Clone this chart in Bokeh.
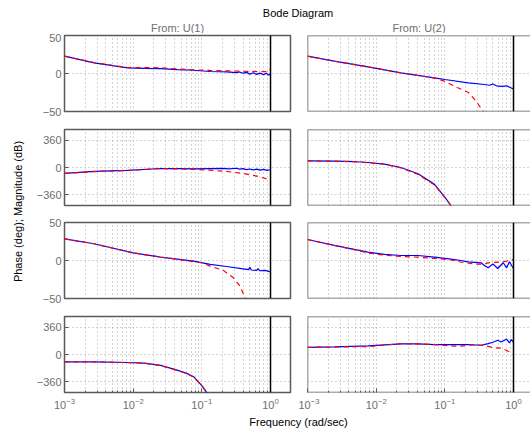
import math
from bokeh.plotting import figure
from bokeh.models import Range1d, FixedTicker, Span, Label
from bokeh.layouts import column, row
from bokeh.embed import file_html
from bokeh.resources import INLINE

# ---------------- data ----------------
freq_major = [1e-3, 1e-2, 1e-1, 1e0]
mag_ticks = [-50, 0, 50]
mag_tick_labels = {-50: "\u221250", 0: "0", 50: "50"}
phase_ticks = [-360, 0, 360]
phase_tick_labels = {-360: "\u2212360", 0: "0", 360: "360"}

inputs = ["From: U(1)", "From: U(2)"]
outputs = ["To: Y(1)", "To: Y(2)"]

# Y(1) <- U(1), magnitude (dB)
f_m11_meas = [0.001, 0.00269, 0.00832, 0.0145, 0.0251, 0.0437, 0.0759, 0.132, 0.229, 0.316, 0.355,
              0.398, 0.447, 0.501, 0.562, 0.631, 0.700, 0.794, 0.871, 0.933, 1.0]
m11_meas = [22.8, 14.0, 7.4, 6.8, 6.5, 5.2, 4.3, 2.6, 2.1, 1.2, 2.0,
            0.4, 1.5, -0.8, 1.0, -1.2, 0.5, -1.5, 0.3, -2.0, -0.8]
f_m11_model = [0.001, 0.00269, 0.00832, 0.0145, 0.0251, 0.0437, 0.0759, 0.132, 0.229, 0.398, 0.700, 0.891, 1.0]
m11_model = [22.8, 14.5, 7.6, 7.8, 7.5, 6.0, 4.8, 4.0, 3.5, 3.0, 2.5, 2.5, 6.0]

# Y(1) <- U(2), magnitude (dB)
f_m12_meas = [0.001, 0.00245, 0.00759, 0.0229, 0.0708, 0.1, 0.219, 0.380, 0.447, 0.501, 0.562,
              0.676, 0.794, 0.891, 1.0]
m12_meas = [22.8, 16.2, 8.8, 0.8, -5.7, -7.9, -12.3, -14.5, -15.5, -13.8, -16.2,
            -17.0, -16.2, -18.5, -20.2]
f_m12_model = [0.001, 0.00245, 0.00759, 0.0229, 0.0708, 0.0984, 0.151, 0.221, 0.286, 0.358, 0.427]
m12_model = [22.8, 16.2, 8.8, 0.8, -6.0, -10.1, -18.4, -25.0, -36.4, -49.6, -62.0]

# Y(1) <- U(1), phase (deg)
f_p11_meas = [0.001, 0.00269, 0.00822, 0.0251, 0.0437, 0.0759, 0.132, 0.200, 0.251, 0.316, 0.355,
              0.398, 0.447, 0.501, 0.562, 0.631, 0.708, 0.794, 0.891, 1.0]
p11_meas = [-78, -52, -39, -13, -15, -17, -14, -12, -18, -10, -22,
            -15, -28, -20, -32, -22, -35, -25, -38, -30]
f_p11_model = [0.001, 0.00269, 0.00822, 0.0251, 0.0437, 0.0759, 0.132, 0.229, 0.398, 0.631, 0.891, 1.0]
p11_model = [-78, -55, -40, -15, -18, -25, -35, -52, -78, -113, -152, -165]

# Y(1) <- U(2), phase (deg)
f_p12_meas = [0.001, 0.00245, 0.00501, 0.00759, 0.0132, 0.0229, 0.0407, 0.0708, 0.1, 0.123, 0.141]
p12_meas = [87, 84, 76, 66, 45, 0, -83, -222, -390, -500, -590]
f_p12_model = [0.001, 0.00245, 0.00501, 0.00759, 0.0132, 0.0229, 0.0407, 0.0708, 0.1, 0.123, 0.141]
p12_model = [87, 83, 75, 64, 43, -5, -90, -230, -395, -505, -595]

# Y(2) <- U(1), magnitude (dB)
f_m21_meas = [0.001, 0.00269, 0.01, 0.0251, 0.0759, 0.132, 0.229, 0.398, 0.479, 0.501, 0.525,
              0.631, 0.661, 0.692, 0.832, 1.0]
m21_meas = [28.5, 22.0, 10.0, 4.5, -0.9, -5.2, -7.9, -10.9, -12.0, -9.0, -12.5,
            -13.0, -10.5, -13.5, -13.0, -15.0]
f_m21_model = [0.001, 0.00269, 0.01, 0.0251, 0.0759, 0.1, 0.132, 0.206, 0.288, 0.359, 0.427, 0.468]
m21_model = [28.5, 22.0, 10.0, 4.5, -1.5, -3.0, -7.4, -13.0, -22.8, -33.7, -49.0, -60.0]

# Y(2) <- U(2), magnitude (dB)
f_m22_meas = [0.001, 0.00245, 0.00759, 0.0132, 0.0229, 0.0407, 0.0708, 0.123, 0.170, 0.219, 0.339,
              0.380, 0.427, 0.501, 0.589, 0.708, 0.794, 0.871, 1.0]
m22_meas = [27.6, 20.0, 11.0, 8.0, 6.6, 6.6, 4.4, 1.8, 0.0, -1.7, -3.0,
            -7.0, -9.6, -4.4, -10.5, -3.0, -9.6, -1.7, -10.5]
f_m22_model = [0.001, 0.00245, 0.00759, 0.0132, 0.0229, 0.0407, 0.0708, 0.123, 0.170, 0.282, 0.380,
               0.427, 0.708, 1.0]
m22_model = [27.6, 20.0, 10.0, 7.0, 5.3, 4.4, 2.6, 0.9, -2.0, -4.8, -4.8, -3.0, -1.7, 1.4]

# Y(2) <- U(1), phase (deg)
f_p21_meas = [0.001, 0.00269, 0.00822, 0.0145, 0.0251, 0.0437, 0.0603, 0.0759, 0.0891, 0.1, 0.117, 0.141]
p21_meas = [-96, -96, -105, -113, -144, -205, -248, -292, -360, -410, -495, -590]
f_p21_model = [0.001, 0.00269, 0.00822, 0.0145, 0.0251, 0.0437, 0.0603, 0.0759, 0.0891, 0.1, 0.117, 0.141]
p21_model = [-96, -97, -106, -115, -146, -210, -252, -296, -362, -412, -497, -592]

# Y(2) <- U(2), phase (deg)
f_p22_meas = [0.001, 0.00245, 0.00759, 0.0229, 0.0407, 0.0708, 0.123, 0.219, 0.339, 0.427, 0.501,
              0.589, 0.661, 0.794, 0.871, 0.933, 1.0]
p22_meas = [95, 100, 113, 139, 139, 130, 130, 130, 122, 143, 161,
            187, 165, 204, 152, 196, 161]
f_p22_model = [0.001, 0.00245, 0.00759, 0.0229, 0.0407, 0.0708, 0.123, 0.170, 0.269, 0.380, 0.525,
               0.676, 0.871, 1.0]
p22_model = [95, 98, 104, 143, 139, 130, 113, 109, 130, 117, 87, 82, 35, 17]

# ---------------- styling ----------------
FONT = "Liberation Sans"
GRAY_TEXT = "#6e6e6e"
FRAME = "#5a5a5a"
GRID = "#a8a8a8"
BLUE = "#0000ff"
RED = "#ff0000"

freq_minor = [k * d for d in freq_major for k in range(2, 10)]

SIDE_W = 26
ROW_H = [87, 93, 94, 106]
ROW_TOP = [2, 9, 9, 9]
ROW_BOT = [9, 8, 9, 21]


def panel(row_idx, col_idx, kind, f_meas, v_meas, f_model, v_model):
    left = col_idx == 0
    xr = Range1d(1e-3, 1.955 if left else 1.768)
    yr = Range1d(-50, 50) if kind == "mag" else Range1d(-500, 500)
    p = figure(width=(298 - SIDE_W) if left else 232, height=ROW_H[row_idx],
               x_axis_type="log", x_range=xr, y_range=yr,
               output_backend="svg", toolbar_location=None,
               min_border_left=(64 - SIDE_W) if left else 9, min_border_right=8 if left else 0,
               min_border_top=ROW_TOP[row_idx], min_border_bottom=ROW_BOT[row_idx])
    p.background_fill_color = "white"
    p.border_fill_color = "white"

    xt = FixedTicker(ticks=freq_major, minor_ticks=freq_minor)
    yt = FixedTicker(ticks=mag_ticks if kind == "mag" else phase_ticks)
    p.xaxis.ticker = xt
    p.xgrid.ticker = xt
    p.yaxis.ticker = yt
    p.ygrid.ticker = yt

    for g in (p.xgrid, p.ygrid):
        g.grid_line_color = GRID
        g.grid_line_dash = "1 3"
        g.grid_line_width = 1
    p.xgrid.minor_grid_line_color = GRID
    p.xgrid.minor_grid_line_dash = "1 3"

    if row_idx == 3:
        ax = p.xaxis[0]
        ax.axis_line_color = None
        ax.major_tick_in = 4
        ax.major_tick_out = 0
        ax.minor_tick_in = 2
        ax.minor_tick_out = 0
        ax.major_tick_line_color = FRAME
        ax.minor_tick_line_color = FRAME
        ax.major_label_text_font = FONT
        ax.major_label_text_font_size = "11px"
        ax.major_label_text_color = GRAY_TEXT
        ax.major_label_standoff = 5
    else:
        p.xaxis.visible = False

    if left:
        ay = p.yaxis[0]
        ay.axis_line_color = None
        ay.major_tick_in = 4
        ay.major_tick_out = 0
        ay.minor_tick_line_color = None
        ay.major_tick_line_color = FRAME
        ay.major_label_text_font = FONT
        ay.major_label_text_font_size = "11px"
        ay.major_label_text_color = GRAY_TEXT
        ay.major_label_standoff = 3
        ay.major_label_overrides = mag_tick_labels if kind == "mag" else phase_tick_labels
        p.outline_line_color = FRAME
        p.outline_line_width = 1.5
        out_name = outputs[0] if row_idx < 2 else outputs[1]
        p.add_layout(Label(x=-26.5, y=0, x_units="screen", y_units="data", text=out_name,
                           angle=math.pi / 2, text_align="center", text_baseline="alphabetic",
                           text_font=FONT, text_font_size="11px", text_color=GRAY_TEXT))
    else:
        p.yaxis.visible = False
        p.outline_line_color = None
        p.add_layout(Span(location=yr.start, dimension="width", line_color=FRAME, line_width=1.5))
        p.add_layout(Span(location=yr.end, dimension="width", line_color=FRAME, line_width=1.5))
        p.add_layout(Span(location=1e-3, dimension="height", line_color=FRAME, line_width=1.5))

    p.line(f_meas, v_meas, line_color=BLUE, line_width=1.2)
    p.line(f_model, v_model, line_color=RED, line_width=1.2, line_dash="5 4")
    p.add_layout(Span(location=1.0, dimension="height", line_color="black", line_width=1.5))
    return p


p_m11 = panel(0, 0, "mag", f_m11_meas, m11_meas, f_m11_model, m11_model)
p_m12 = panel(0, 1, "mag", f_m12_meas, m12_meas, f_m12_model, m12_model)
p_p11 = panel(1, 0, "phase", f_p11_meas, p11_meas, f_p11_model, p11_model)
p_p12 = panel(1, 1, "phase", f_p12_meas, p12_meas, f_p12_model, p12_model)
p_m21 = panel(2, 0, "mag", f_m21_meas, m21_meas, f_m21_model, m21_model)
p_m22 = panel(2, 1, "mag", f_m22_meas, m22_meas, f_m22_model, m22_model)
p_p21 = panel(3, 0, "phase", f_p21_meas, p21_meas, f_p21_model, p21_model)
p_p22 = panel(3, 1, "phase", f_p22_meas, p22_meas, f_p22_model, p22_model)


def strip(w, h):
    s = figure(width=w, height=h, x_range=Range1d(0, w), y_range=Range1d(h, 0),
               output_backend="svg", toolbar_location=None,
               x_axis_location=None, y_axis_location=None,
               min_border=0, min_border_left=0, min_border_right=0,
               min_border_top=0, min_border_bottom=0)
    s.outline_line_color = None
    s.xgrid.visible = False
    s.ygrid.visible = False
    return s


TOP_H = 33
top = strip(530, TOP_H)
top.add_layout(Label(x=297.5, y=12.5, text="Bode Diagram", text_align="center",
                     text_baseline="alphabetic", text_font=FONT, text_font_size="11px",
                     text_color="black"))
top.add_layout(Label(x=177, y=27.5, text=inputs[0], text_align="center",
                     text_baseline="alphabetic", text_font=FONT, text_font_size="11px",
                     text_color=GRAY_TEXT))
top.add_layout(Label(x=418.5, y=27.5, text=inputs[1], text_align="center",
                     text_baseline="alphabetic", text_font=FONT, text_font_size="11px",
                     text_color=GRAY_TEXT))

side_h = sum(ROW_H)
side = strip(SIDE_W, side_h)
side.add_layout(Label(x=17.5, y=211 - TOP_H, text="Phase (deg); Magnitude (dB)", angle=math.pi / 2,
                      text_align="center", text_baseline="alphabetic", text_font=FONT,
                      text_font_size="11px", text_color="black"))

bottom = strip(530, 429 - TOP_H - side_h)
bottom.add_layout(Label(x=298, y=421.5 - TOP_H - side_h, text="Frequency (rad/sec)", text_align="center",
                        text_baseline="alphabetic", text_font=FONT, text_font_size="11px",
                        text_color="black"))

left_col = column(p_m11, p_p11, p_m21, p_p21, spacing=0)
right_col = column(p_m12, p_p12, p_m22, p_p22, spacing=0)
middle = row(side, left_col, right_col, spacing=0)
page = column(top, middle, bottom, spacing=0)

open("out.html", "w").write(file_html(page, INLINE))
